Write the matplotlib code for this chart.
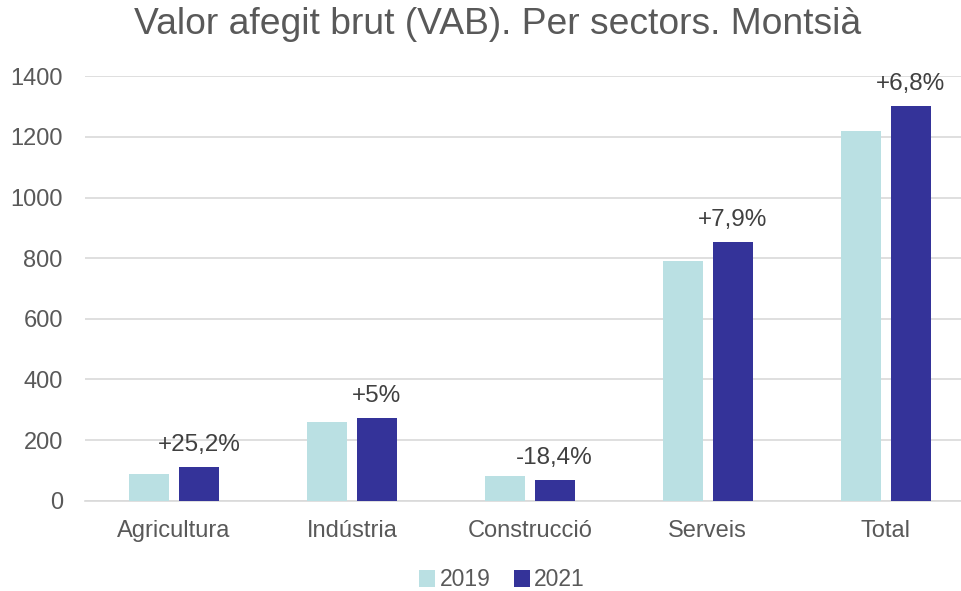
import matplotlib
matplotlib.use("Agg")
import matplotlib.pyplot as plt
import numpy as np

categories = ["Agricultura", "Indústria", "Construcció", "Serveis", "Total"]
series_names = ["2019", "2021"]
values_2019 = [88, 259, 82, 791, 1221]
values_2021 = [110, 272, 68, 853, 1303]
change_labels = ["+25,2%", "+5%", "-18,4%", "+7,9%", "+6,8%"]
yticks = [0, 200, 400, 600, 800, 1000, 1200, 1400]

plt.rcParams['font.family'] = ['Liberation Sans', 'DejaVu Sans']
text_color = "#595959"
c2019 = "#BAE0E3"
c2021 = "#343399"

W, H = 961, 591
fig = plt.figure(figsize=(W / 100, H / 100), dpi=100)
left = 85 / W
bottom = (H - 500.7) / H
height = (500.7 - 76.3) / H
width = (177.9 * 5) / W
ax = fig.add_axes([left, bottom, width, height])

x = np.arange(len(categories))
bw = 0.225
off = 0.1405
b1 = ax.bar(x - off, values_2019, bw, color=c2019, label=series_names[0], zorder=3)
b2 = ax.bar(x + off, values_2021, bw, color=c2021, label=series_names[1], zorder=3)

for xi, v, lab in zip(x, values_2021, change_labels):
    ax.annotate(lab, (xi + off, v), xytext=(0, 11.5), textcoords="offset points",
                ha="center", va="baseline", fontsize=17.5, color="#404040")

ax.set_xlim(-0.5, len(categories) - 0.5)
ax.set_ylim(0, 1400)
ax.set_yticks(yticks)
ax.set_xticks(x)
ax.set_xticklabels(categories)
ax.tick_params(axis="both", length=0, labelsize=17, colors=text_color)
ax.tick_params(axis="y", pad=16)
ax.tick_params(axis="x", pad=14)
ax.grid(axis="y", color="#D9D9D9", linewidth=1.2, zorder=0)
for s in ["top", "right", "left"]:
    ax.spines[s].set_visible(False)
ax.spines["bottom"].set_color("#D9D9D9")
ax.spines["bottom"].set_linewidth(1.2)

fig.text(498 / W, 1 - 24 / H, "Valor afegit brut (VAB). Per sectors. Montsià",
         ha="center", va="center", fontsize=26.8, color=text_color)

leg = fig.legend(handles=[b1, b2], labels=series_names, loc="center",
                 bbox_to_anchor=(502 / W, 1 - 580 / H), ncol=2, frameon=False,
                 fontsize=16.5, handlelength=0.7, handleheight=0.7,
                 handletextpad=0.2, columnspacing=1.0)
for t in leg.get_texts():
    t.set_color(text_color)

fig.savefig("out.png", dpi=100)
